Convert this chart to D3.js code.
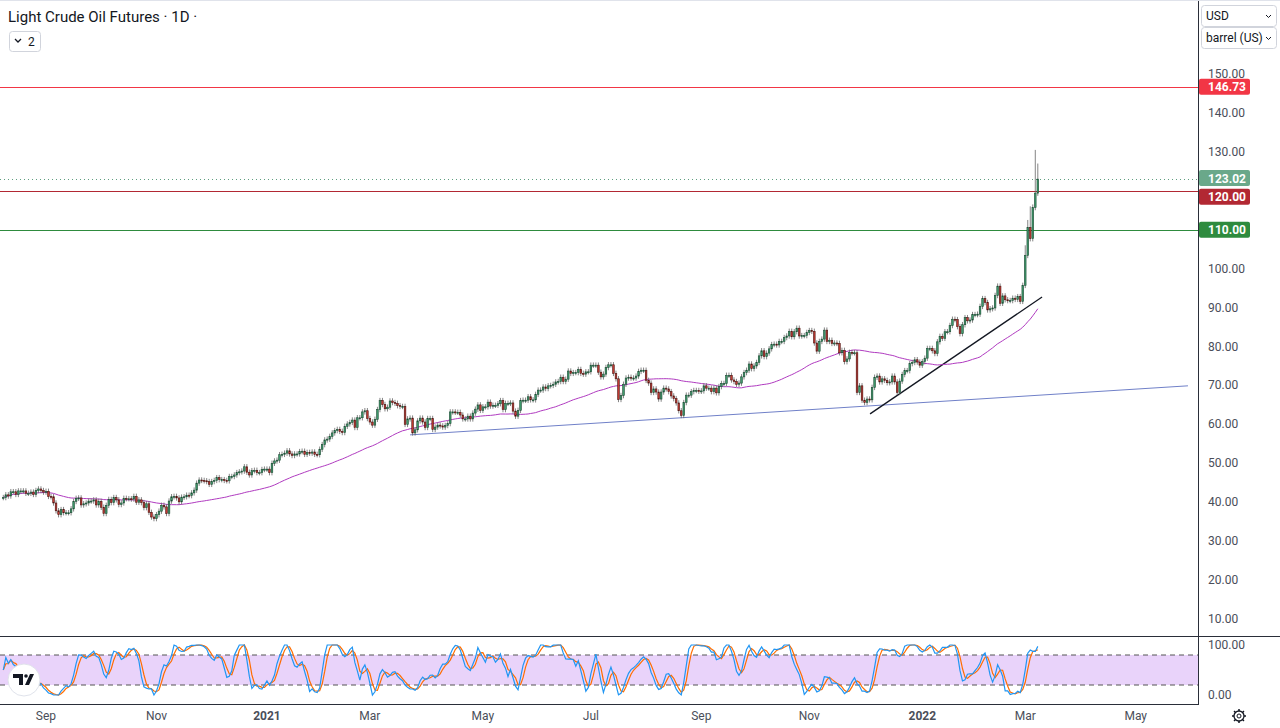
<!DOCTYPE html>
<html><head><meta charset="utf-8">
<script src="https://cdn.jsdelivr.net/npm/d3@7"></script>
<style>
body{margin:0;background:#fff;font-family:"Roboto","Noto Sans",sans-serif;}
svg text{font-family:"Roboto","Noto Sans",sans-serif;}
</style></head><body>
<svg id="chart" width="1280" height="728"></svg>
<script>
// daily closes, one array per month
var aug2020 = [41.2,41.9,41.6,42.7,42.7,42.0,42.9,42.9,42.9,42.3,42.3,42.6,42.0,43.0,43.4,43.0,42.6];
var sep2020 = [42.8,41.5,41.4,39.8,37.8,36.8,38.1,37.3,37.3,37.3,38.3,40.2,41.0,41.1,39.3,39.6,39.8,40.3,40.3,40.6,39.3,40.2];
var oct2020 = [38.7,37.1,39.2,40.7,39.9,41.2,40.6,39.4,39.8,41.0,40.9,40.9,40.8,41.5,40.0,40.6,39.9,38.6,39.6,37.4,36.2,35.8];
var nov2020 = [36.8,37.7,39.2,38.8,37.1,40.3,41.4,41.5,41.1,40.1,41.3,41.4,41.8,41.7,42.4,43.1,44.9,45.7,45.6,45.5,45.3];
var dec2020 = [44.6,45.3,45.6,46.3,45.8,45.8,45.6,45.5,46.6,46.6,47.0,47.6,47.8,48.0,49.1,47.7,47.0,48.1,48.2,47.6,47.6,48.4,48.5];
var jan2021 = [48.5,47.6,50.0,50.6,50.8,52.2,52.3,52.6,53.2,52.4,52.0,52.4,52.4,53.0,53.1,52.3,52.8,52.6,52.9,52.3,52.2];
var feb2021 = [53.6,54.8,56.0,56.2,56.9,57.8,58.4,58.7,58.2,57.9,59.5,60.1,60.5,61.1,59.2,61.7,61.7,63.2,63.5,61.5];
var mar2021 = [60.6,59.8,61.3,63.8,66.1,65.1,64.0,64.4,66.0,65.6,65.4,64.8,64.6,64.6,60.0,61.4,61.6,57.8,58.6,60.9,61.6,60.6,59.2];
var apr2021 = [61.5,61.5,58.7,59.3,59.8,59.6,59.3,59.7,60.2,63.2,63.2,63.1,63.1,62.4,61.4,61.4,62.1,61.4,62.9,63.9,65.0,63.6];
var may2021 = [64.5,64.5,65.7,64.7,64.9,64.9,65.3,66.1,63.8,65.4,65.4,65.5,63.4,62.1,63.6,66.1,66.2,66.2,67.1,66.3,66.3];
var jun2021 = [67.7,68.8,68.8,69.6,69.2,69.9,70.0,70.3,70.9,71.0,72.1,71.0,71.6,73.7,73.1,73.3,73.3,74.1,73.1,72.9,73.5,73.5];
var jul2021 = [75.2,75.2,75.2,73.4,72.2,72.9,74.6,75.3,75.3,73.1,71.7,66.4,67.4,70.3,71.9,72.1,71.9,71.9,72.4,73.6,73.9,73.9];
var aug2021 = [71.3,70.6,68.2,69.1,68.3,66.5,68.3,69.3,69.1,68.4,67.3,66.6,65.5,63.5,62.3,65.6,67.5,67.5,68.4,68.7,68.7,68.5];
var sep2021 = [68.6,69.9,69.3,69.3,68.4,69.3,68.1,69.7,70.5,70.5,72.6,72.6,71.4,71.0,70.3,70.6,72.2,73.3,73.9,75.5,74.3,75.0];
var oct2021 = [75.9,77.6,78.9,77.4,78.3,79.4,80.5,80.6,80.4,81.3,81.3,82.3,82.7,83.9,82.5,83.8,84.7,82.7,82.8,82.8,83.6];
var nov2021 = [84.1,83.9,80.9,78.8,81.3,81.9,84.2,81.3,81.6,80.8,80.9,80.8,78.4,79.0,76.1,76.8,78.5,78.4,78.4,68.2,69.9,66.2];
var dec2021 = [65.6,66.5,66.3,69.5,72.1,72.4,70.9,71.7,71.3,70.7,70.9,72.4,70.9,68.2,71.1,72.8,73.8,73.8,75.6,75.9,76.6,76.0,75.2];
var jan2022 = [76.1,77.0,79.5,79.5,78.9,78.2,81.2,82.6,82.1,83.8,83.8,85.4,87.0,86.9,85.1,83.3,85.6,87.4,86.6,86.8,88.2];
var feb2022 = [88.2,88.3,90.3,92.3,91.3,89.4,89.7,89.9,93.1,95.5,91.1,93.0,92.0,91.8,91.8,92.4,92.1,92.8,91.6,95.7];
var mar2022 = [103.4,110.6,107.7,115.7,119.4,123.0];
var mar2022High = [106.0,112.5,116.0,116.5,130.5,127.0];

var months = [
  {label:"", d:aug2020},{label:"Sep", d:sep2020},{label:"", d:oct2020},{label:"Nov", d:nov2020},
  {label:"", d:dec2020},{label:"2021", d:jan2021, bold:true},{label:"", d:feb2021},{label:"Mar", d:mar2021},
  {label:"", d:apr2021},{label:"May", d:may2021},{label:"", d:jun2021},{label:"Jul", d:jul2021},
  {label:"", d:aug2021},{label:"Sep", d:sep2021},{label:"", d:oct2021},{label:"Nov", d:nov2021},
  {label:"", d:dec2021},{label:"2022", d:jan2022, bold:true},{label:"", d:feb2022},{label:"Mar", d:mar2022}
];
// trading days still to come (rest of Mar, Apr, May)
var futureMonths = [{label:"", n:17},{label:"", n:21},{label:"May", n:21}];

var priceTicks = [10,20,30,40,50,60,70,80,90,100,110,120,130,140,150];
var levels = [
  {v:146.73, line:"#f23645", box:"#f23645", dash:null, shift:0},
  {v:120.00, line:"#b22833", box:"#b22833", dash:null, shift:6},
  {v:110.00, line:"#2e8b3e", box:"#2e8b3e", dash:null, shift:0},
  {v:123.02, line:"#5f9e80", box:"#6aa88a", dash:"1,3", shift:-1}
];
// trend lines: [bar index, price]
var trendBlue = [[162,57.3],[471.8,69.9]];
var trendBlack = [[345.2,62.7],[413.7,92.7]];

// build bars
var closes = [], ticks = [];
months.forEach(function(m){ if(m.label) ticks.push({i:closes.length, label:m.label, bold:m.bold}); closes.push.apply(closes, m.d); });
var n = closes.length, k = n;
futureMonths.forEach(function(m){ if(m.label) ticks.push({i:k, label:m.label}); k += m.n; });
var bars = closes.map(function(c,i){
  var o = i ? closes[i-1] : c;
  var hi = Math.max(o,c)+0.7, lo = Math.min(o,c)-0.7;
  var mi = i - (n - mar2022.length);
  if(mi >= 0) hi = mar2022High[mi];
  return {i:i,o:o,c:c,h:hi,l:lo};
});

// 50-bar moving average
var ma = closes.map(function(c,i){ var s=closes.slice(Math.max(0,i-49),i+1); return d3.mean(s); });

// stochastic RSI 14,14,3,3
function rsi(arr,p){
  var out=[], g=0, l=0;
  for(var i=1;i<arr.length;i++){
    var ch=arr[i]-arr[i-1], up=Math.max(ch,0), dn=Math.max(-ch,0);
    if(i<=p){ g+=up/p; l+=dn/p; } else { g=(g*(p-1)+up)/p; l=(l*(p-1)+dn)/p; }
    out[i] = l===0 ? 100 : 100-100/(1+g/l);
  }
  out[0]=50; return out;
}
var r = rsi(closes,14);
var st = r.map(function(v,i){ var w=r.slice(Math.max(0,i-13),i+1); var mn=d3.min(w), mx=d3.max(w); return mx===mn?50:(v-mn)/(mx-mn)*100; });
function sma(a,p){ return a.map(function(v,i){ return d3.mean(a.slice(Math.max(0,i-p+1),i+1)); }); }
var kLine = sma(st,3), dLine = sma(kLine,3);

// scales
var W=1280, H=728, plotR=1198;
var x = d3.scaleLinear().domain([0,475.8]).range([3.3,plotR]);
var y = d3.scaleLinear().domain([10,150]).range([619,74]);
var y2 = d3.scaleLinear().domain([0,100]).range([695,645]);
var bw = (x(1)-x(0))*0.65;

var svg = d3.select("#chart");
svg.append("rect").attr("width",W).attr("height",H).attr("fill","#fff");

// borders
svg.append("line").attr("x1",plotR+0.5).attr("x2",plotR+0.5).attr("y1",0).attr("y2",705).attr("stroke","#2a2e39");
svg.append("line").attr("x1",0).attr("x2",W).attr("y1",636.5).attr("y2",636.5).attr("stroke","#2a2e39");
svg.append("line").attr("x1",0).attr("x2",plotR).attr("y1",704.5).attr("y2",704.5).attr("stroke","#2a2e39");
svg.append("line").attr("x1",0).attr("x2",W).attr("y1",0.5).attr("y2",0.5).attr("stroke","#e0e3eb");

var plot = svg.append("g");
plot.append("clipPath").attr("id","clip").append("rect").attr("width",plotR).attr("height",636);

// levels
levels.forEach(function(lv){
  plot.append("line").attr("x1",0).attr("x2",plotR).attr("y1",Math.round(y(lv.v))+0.5).attr("y2",Math.round(y(lv.v))+0.5)
    .attr("stroke",lv.line).attr("stroke-dasharray",lv.dash);
});

// trend lines
var ln = d3.line().x(function(d){return x(d[0]);}).y(function(d){return y(d[1]);});
plot.append("path").attr("d",ln(trendBlue)).attr("stroke","#7080c8").attr("fill","none");
plot.append("path").attr("d",ln(trendBlack)).attr("stroke","#131722").attr("stroke-width",1.3).attr("fill","none");

// MA
plot.append("path").attr("d",d3.line().x(function(d,i){return x(i);}).y(function(d){return y(d);})(ma))
  .attr("stroke","#b03ac0").attr("fill","none").attr("stroke-width",1);

// candles
var cg = plot.append("g").attr("clip-path","url(#clip)");
cg.selectAll("line.w").data(bars).enter().append("line")
  .attr("x1",function(d){return x(d.i);}).attr("x2",function(d){return x(d.i);})
  .attr("y1",function(d){return y(d.h);}).attr("y2",function(d){return y(d.l);})
  .attr("stroke","#666").attr("stroke-width",0.8);
cg.selectAll("rect.b").data(bars).enter().append("rect")
  .attr("x",function(d){return x(d.i)-bw/2;}).attr("width",bw)
  .attr("y",function(d){return y(Math.max(d.o,d.c));})
  .attr("height",function(d){return Math.max(1,Math.abs(y(d.o)-y(d.c)));})
  .attr("fill",function(d){return d.c>=d.o?"#3f9a6c":"#c23a32";})
  .attr("stroke",function(d){return d.c>=d.o?"#1d4d35":"#4d1512";}).attr("stroke-width",0.6);

// price axis (tick labels hidden under level badges)
var shownTicks = priceTicks.filter(function(t){ return !levels.some(function(lv){ return Math.abs(y(t)-y(lv.v)-lv.shift) < 10; }); });
svg.selectAll("text.pt").data(shownTicks).enter().append("text")
  .attr("x",1208).attr("y",function(d){return y(d)+4;}).attr("font-size",12).attr("fill","#4a4e59")
  .text(function(d){return d.toFixed(2);});
levels.forEach(function(lv){
  var yy = y(lv.v) + lv.shift;
  svg.append("rect").attr("x",plotR+1).attr("y",yy-8).attr("width",51).attr("height",16).attr("rx",2).attr("fill",lv.box);
  svg.append("text").attr("x",1208).attr("y",yy+4.5).attr("font-size",12).attr("font-weight","bold").attr("fill","#fff").text(lv.v.toFixed(2));
});

// oscillator panel
svg.append("rect").attr("x",0).attr("y",y2(80)).attr("width",plotR).attr("height",y2(20)-y2(80)).attr("fill","#e9d3fa");
[80,20].forEach(function(v){
  svg.append("line").attr("x1",0).attr("x2",plotR).attr("y1",y2(v)).attr("y2",y2(v)).attr("stroke","#555").attr("stroke-dasharray","5,4");
});
var ln2 = d3.line().defined(function(d){return !isNaN(d);}).x(function(d,i){return x(i);}).y(function(d){return y2(d);});
svg.append("path").attr("d",ln2(dLine)).attr("stroke","#ff6d00").attr("fill","none").attr("stroke-width",1.2);
svg.append("path").attr("d",ln2(kLine)).attr("stroke","#2196f3").attr("fill","none").attr("stroke-width",1.2);
svg.append("text").attr("x",1208).attr("y",y2(100)+4).attr("font-size",12).attr("fill","#4a4e59").text("100.00");
svg.append("text").attr("x",1208).attr("y",y2(0)+4).attr("font-size",12).attr("fill","#4a4e59").text("0.00");

// time axis
svg.selectAll("text.tt").data(ticks).enter().append("text")
  .attr("x",function(d){return x(d.i);}).attr("y",720).attr("text-anchor","middle").attr("font-size",12)
  .attr("font-weight",function(d){return d.bold?"bold":null;}).attr("fill","#4a4e59")
  .text(function(d){return d.label;});

// header
svg.append("text").attr("x",8).attr("y",22).attr("font-size",15).attr("fill","#131722").text("Light Crude Oil Futures · 1D ·");
svg.append("rect").attr("x",9.5).attr("y",31.5).attr("width",31).attr("height",20).attr("rx",3).attr("fill","#fff").attr("stroke","#d1d4dc");
svg.append("path").attr("d","M15,39 l3,3 l3,-3").attr("stroke","#131722").attr("fill","none").attr("stroke-width",1.3);
svg.append("text").attr("x",28).attr("y",46).attr("font-size",12).attr("fill","#131722").text("2");

// unit dropdowns
[["USD",5],["barrel (US)",27]].forEach(function(u){
  svg.append("rect").attr("x",1201.5).attr("y",u[1]+0.5).attr("width",75).attr("height",21).attr("rx",3).attr("fill","#fff").attr("stroke","#d1d4dc");
  svg.append("text").attr("x",1206).attr("y",u[1]+15).attr("font-size",12).attr("fill","#131722").text(u[0]);
  svg.append("path").attr("d","M1266,"+(u[1]+10)+" l2.5,2.5 l2.5,-2.5").attr("stroke","#131722").attr("fill","none");
});

// logo
svg.append("circle").attr("cx",24).attr("cy",680).attr("r",16).attr("fill","#fff").attr("stroke","#e0e3eb");
svg.append("path").attr("d","M13,674 h10 v11 h-4 v-7 h-6 z M25,685 l5,-11 h4 l-5,11 z").attr("fill","#131722");
svg.append("circle").attr("cx",26).attr("cy",676).attr("r",1.8).attr("fill","#131722");

// gear
var gg = svg.append("g").attr("transform","translate(1239,716)");
gg.append("circle").attr("r",5).attr("fill","none").attr("stroke","#131722").attr("stroke-width",1.3);
gg.append("circle").attr("r",2).attr("fill","none").attr("stroke","#131722");
d3.range(8).forEach(function(j){
  var a=j*Math.PI/4;
  gg.append("line").attr("x1",5*Math.cos(a)).attr("y1",5*Math.sin(a)).attr("x2",7*Math.cos(a)).attr("y2",7*Math.sin(a)).attr("stroke","#131722").attr("stroke-width",1.5);
});
</script>
</body></html>
